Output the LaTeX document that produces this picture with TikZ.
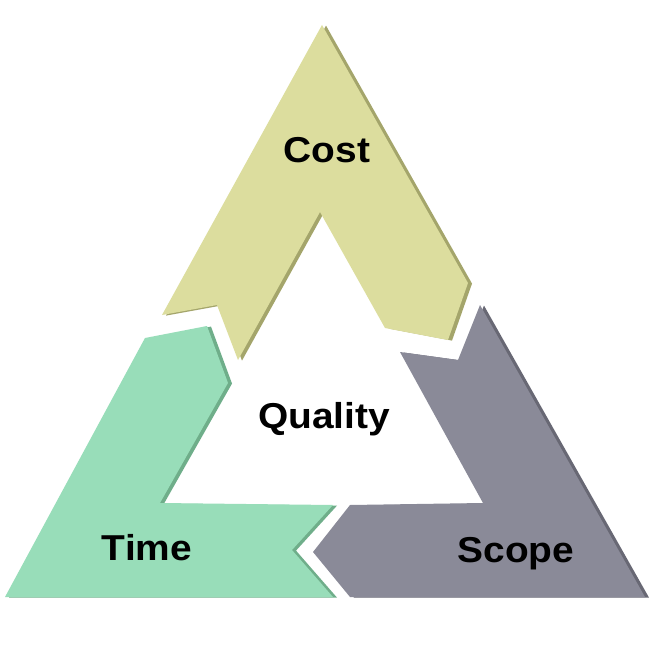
\documentclass[tikz,border=0pt]{standalone}
\usepackage{fontspec}
\setmainfont{Liberation Sans}
\newfontfamily\lblfont{Liberation Sans}[FakeStretch=1.08]
\definecolor{costfill}{HTML}{DCDD9E}
\definecolor{costshade}{HTML}{A4A56B}
\definecolor{timefill}{HTML}{98DDB9}
\definecolor{timeshade}{HTML}{6FAE8A}
\definecolor{scopefill}{HTML}{8A8A98}
\definecolor{scopeshade}{HTML}{686874}
\tikzset{
  lbl/.style={font=\lblfont\fontsize{36}{40}\selectfont\bfseries, text=black, inner sep=0pt, anchor=base},
  shade3d/.style={shift={(4,0.6)}}
}
\begin{document}
\begin{tikzpicture}[x=1pt,y=-1pt]
\useasboundingbox (0,0) rectangle (650,650);
\fill[white] (0,0) rectangle (650,650);
% Cost
\fill[costshade, shade3d] (322,25) -- (468,283) -- (448,340) -- (385,328) -- (320,212) -- (238,360) -- (217,305) -- (162,315) -- cycle;
\fill[costfill] (322,25) -- (468,283) -- (448,340) -- (385,328) -- (320,212) -- (238,360) -- (217,305) -- (162,315) -- cycle;
% Time
\fill[timeshade, shade3d] (145,338) -- (207,326) -- (228,383) -- (160,503) -- (333,505) -- (292,550) -- (333,597) -- (5,597) -- cycle;
\fill[timefill] (145,338) -- (207,326) -- (228,383) -- (160,503) -- (333,505) -- (292,550) -- (333,597) -- (5,597) -- cycle;
% Scope
\fill[scopeshade, shade3d] (480,305) -- (645,597) -- (350,597) -- (313,552) -- (350,505) -- (483,503) -- (400,352) -- (458,360) -- cycle;
\fill[scopefill] (480,305) -- (645,597) -- (350,597) -- (313,552) -- (350,505) -- (483,503) -- (400,352) -- (458,360) -- cycle;
% Labels
\node[lbl] (cost) at (327,162) {Cost};
\node[lbl] (quality) at (324,428) {Quality};
\node[lbl] (time) at (147,560) {Time};
\node[lbl] (scope) at (516,562) {Scope};
\end{tikzpicture}
\end{document}
